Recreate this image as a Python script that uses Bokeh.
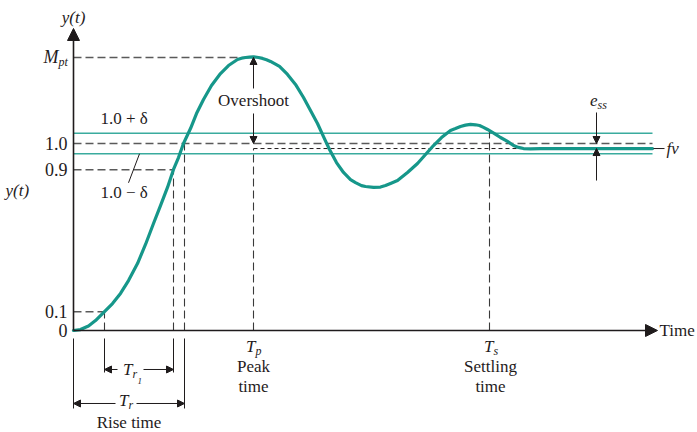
from bokeh.plotting import figure
from bokeh.models import Range1d, Arrow, NormalHead
from bokeh.core.properties import value
from bokeh.embed import file_html
from bokeh.resources import INLINE

# ---------------- data ----------------
t_curve = [0.00, 0.14, 0.30, 0.44, 0.60, 0.78, 0.94, 1.10, 1.28, 1.44, 1.60, 1.74, 1.88,
           2.00, 2.10, 2.20, 2.34, 2.46, 2.60, 2.76, 2.94, 3.10, 3.28, 3.36, 3.44, 3.52,
           3.60, 3.70, 3.78, 3.86, 3.94, 4.12, 4.28, 4.44, 4.60, 4.74, 4.88, 5.00, 5.12,
           5.26, 5.40, 5.54, 5.64, 5.76, 5.84, 6.00, 6.14, 6.24, 6.34, 6.48, 6.68, 6.88,
           7.04, 7.20, 7.36, 7.54, 7.64, 7.74, 7.84, 7.94, 8.04, 8.12, 8.20, 8.28, 8.42,
           8.54, 8.68, 8.80, 8.90, 9.00, 9.14, 9.34, 11.58]
y_curve = [0.000, 0.005, 0.024, 0.053, 0.096, 0.144, 0.198, 0.267, 0.358, 0.460, 0.572, 0.668, 0.765,
           0.861, 0.925, 1.000, 1.080, 1.160, 1.235, 1.310, 1.374, 1.417, 1.449, 1.456, 1.460, 1.462,
           1.463, 1.460, 1.455, 1.448, 1.439, 1.412, 1.369, 1.316, 1.246, 1.176, 1.107, 1.037, 0.968,
           0.898, 0.845, 0.807, 0.791, 0.775, 0.770, 0.765, 0.767, 0.775, 0.786, 0.802, 0.845, 0.893,
           0.941, 0.989, 1.032, 1.070, 1.080, 1.091, 1.098, 1.102, 1.100, 1.096, 1.086, 1.075, 1.053,
           1.032, 1.011, 0.989, 0.979, 0.973, 0.971, 0.973, 0.973]

level_values = [0.0, 0.1, 0.86, 1.0]
level_labels = ["0", "0.1", "0.9", "1.0"]
peak_value = 1.46
final_value = 0.973
delta = 0.055
t_10 = 0.62
t_90 = 2.0
t_100 = 2.22
t_peak = 3.6
t_settle = 8.32
y_settle = 1.07
t_end = 11.58

# ---------------- layout ----------------
W, H = 697, 432
X0, X1 = -1.46, 12.48
Y0, Y1 = -0.5455, 1.7647
XPX = (X1 - X0) / W
YPX = (Y1 - Y0) / H
y_axis_top = 1.615
x_axis_end = 11.68
t_ess = 10.46

FONT = value("Liberation Serif, Times New Roman, DejaVu Serif, serif")
INK = "#1f1b1c"
TEAL = "#16978a"
TEAL_L = "#3aab9e"
GRAY = "#5a5a5a"

p = figure(width=W, height=H, x_range=Range1d(X0, X1), y_range=Range1d(Y0, Y1),
           x_axis_type=None, y_axis_type=None, toolbar_location=None,
           output_backend="svg", min_border=0, outline_line_color=None)
p.background_fill_color = "white"
p.border_fill_color = "white"


def txt(x, y, s, size=17, align="center", italic=False, xo=0):
    p.text(x=[x], y=[y], text=[s], text_font=FONT, text_font_size=f"{size}px",
           text_align=align, text_baseline="middle", text_color=INK,
           text_font_style="italic" if italic else "normal", x_offset=xo)


# tolerance band
p.segment(x0=[0, 0], y0=[1 + delta, 1 - delta], x1=[t_end, t_end], y1=[1 + delta, 1 - delta],
          line_color=TEAL_L, line_width=1.5)

# horizontal dashed guides
p.segment(x0=[0, 0, 0, 0],
          y0=[level_values[1], level_values[2], level_values[3], peak_value],
          x1=[t_10, t_90, t_end, t_peak],
          y1=[level_values[1], level_values[2], level_values[3], peak_value],
          line_color=GRAY, line_width=1.5, line_dash="8 4")

# final value fine dashed line
p.segment(x0=[t_peak], y0=[final_value], x1=[t_end], y1=[final_value],
          line_color=INK, line_width=1, line_dash="4 3")

# vertical dashed guides
p.segment(x0=[t_10, t_90, t_100, t_peak, t_settle], y0=[0] * 5,
          x1=[t_10, t_90, t_100, t_peak, t_settle],
          y1=[level_values[1], level_values[2], level_values[3], final_value, y_settle],
          line_color="#3a3a3a", line_width=1.1, line_dash="8 4")

# extension lines below the axis
p.segment(x0=[0, t_10, t_90, t_100], y0=[-8 * YPX] * 4,
          x1=[0, t_10, t_90, t_100],
          y1=[-78 * YPX, -42 * YPX, -42 * YPX, -78 * YPX],
          line_color=INK, line_width=1)

# response curve
p.line(t_curve, y_curve, line_color=TEAL, line_width=3.2, line_join="round", line_cap="round")

# axes with arrow heads
for xs, ys, xe, ye in [(0, 0, 0, y_axis_top), (0, 0, x_axis_end, 0)]:
    p.add_layout(Arrow(end=NormalHead(size=12, fill_color=INK, line_color=INK),
                       x_start=xs, y_start=ys, x_end=xe, y_end=ye,
                       line_color=INK, line_width=1.6))


def arr(xs, ys, xe, ye):
    p.add_layout(Arrow(end=NormalHead(size=7, fill_color=INK, line_color=INK, line_width=1),
                       x_start=xs, y_start=ys, x_end=xe, y_end=ye,
                       line_color=INK, line_width=1))


# overshoot arrows
arr(t_peak, peak_value - 31 * YPX, t_peak, peak_value)
arr(t_peak, 1.0 + 30 * YPX, t_peak, 1.0)
# steady-state error arrows
arr(t_ess, 1.0 + 31 * YPX, t_ess, 1.0)
arr(t_ess, final_value - 32 * YPX, t_ess, final_value)
# rise time arrows
arr(t_10 + 13 * XPX, -39 * YPX, t_10, -39 * YPX)
arr(t_90 - 30 * XPX, -39 * YPX, t_90, -39 * YPX)
arr(42 * XPX, -73 * YPX, 0, -73 * YPX)
arr(t_100 - 48 * XPX, -73 * YPX, t_100, -73 * YPX)

# leader for 1.0 - delta
p.segment(x0=[55 * XPX], y0=[1 - delta - 29 * YPX], x1=[66 * XPX], y1=[1 - delta],
          line_color=INK, line_width=1)
# fv dash
p.segment(x0=[t_end + 1 * XPX], y0=[final_value], x1=[t_end + 12 * XPX], y1=[final_value],
          line_color=INK, line_width=1)

# y-axis level labels
p.text(x=[0] * len(level_values), y=level_values, text=level_labels, text_font=FONT,
       text_font_size="18px", text_align="right", text_baseline="middle",
       text_color=INK, x_offset=-6)
txt(0, peak_value, "M", size=18, align="right", italic=True, xo=-15)
txt(0, peak_value - 5 * YPX, "pt", size=12, align="left", italic=True, xo=-15)

txt(0, y_axis_top + 11 * YPX, "y(t)", size=17, italic=True)
txt(X0, 0.749, "y(t)", size=17, align="left", italic=True, xo=5)

txt(0, 1 + delta + 15 * YPX, "1.0 + δ", align="left", xo=27)
txt(0, 1 - delta - 39 * YPX, "1.0 − δ", align="left", xo=27)

txt(t_peak, (peak_value + 1.0) / 2, "Overshoot")

txt(t_peak, -16 * YPX, "T", align="right", italic=True, xo=2)
txt(t_peak, -21 * YPX, "p", size=12, align="left", italic=True, xo=2)
txt(t_peak, -36 * YPX, "Peak")
txt(t_peak, -56 * YPX, "time")

txt(t_settle, -16 * YPX, "T", align="right", italic=True, xo=4)
txt(t_settle, -21 * YPX, "s", size=12, align="left", italic=True, xo=4)
txt(t_settle, -36 * YPX, "Settling", xo=1)
txt(t_settle, -56 * YPX, "time", xo=1)

txt(t_10, -39 * YPX, "T", align="right", italic=True, xo=28)
txt(t_10, -44 * YPX, "r", size=12, align="left", italic=True, xo=28)
txt(t_10, -51 * YPX, "1", size=9, align="left", italic=True, xo=33)

txt(0, -70 * YPX, "T", align="right", italic=True, xo=55)
txt(0, -75 * YPX, "r", size=12, align="left", italic=True, xo=55)
txt(t_100 / 2, -92 * YPX, "Rise time")

txt(t_ess, 1.0 + 43 * YPX, "e", align="right", italic=True, xo=1)
txt(t_ess, 1.0 + 38 * YPX, "ss", size=12, align="left", italic=True, xo=1)

txt(t_end, final_value, "fv", align="left", italic=True, xo=14)
txt(x_axis_end, 0, "Time", size=17, align="left", xo=2)

open("out.html", "w").write(file_html(p, INLINE))
